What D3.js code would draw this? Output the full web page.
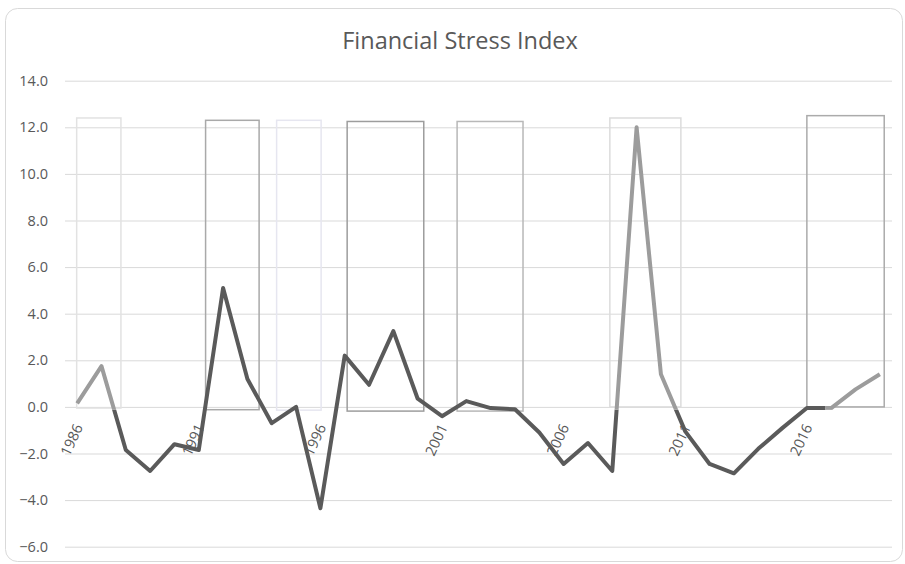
<!DOCTYPE html>
<html>
<head>
<meta charset="utf-8">
<script src="https://cdn.jsdelivr.net/npm/d3@7"></script>
<style>
  html, body { margin: 0; padding: 0; background: #fff; }
  svg { display: block; }
</style>
</head>
<body>
<svg id="chart" width="905" height="564"></svg>
<script>
// ---- data ----
const years = d3.range(1986, 2020);
const fsi = [0.15, 1.75, -1.85, -2.75, -1.6, -1.85, 5.1, 1.2, -0.7, 0.0,
             -4.35, 2.2, 0.95, 3.25, 0.35, -0.4, 0.25, -0.05, -0.1, -1.1,
             -2.45, -1.55, -2.75, 12.0, 1.4, -1.05, -2.45, -2.85, -1.8, -0.9,
             -0.05, -0.05, 0.75, 1.4];
const yTicks = [-6, -4, -2, 0, 2, 4, 6, 8, 10, 12, 14];
const xLabelYears = [1986, 1991, 1996, 2001, 2006, 2011, 2016];
// crisis boxes (fractional years)
const boxStart = [1985.98, 1991.28, 1994.2, 1997.1, 2001.62, 2007.9, 2016.0];
const boxEnd   = [1987.8, 1993.48, 1996.03, 2000.25, 2004.33, 2010.82, 2019.18];
const boxTop   = [12.4, 12.3, 12.3, 12.25, 12.25, 12.4, 12.5];
const boxBottom= [-0.05, -0.12, -0.14, -0.18, -0.18, 0.0, 0.0];
// periods where the line is drawn in the lighter tone
const lightStart = [1986, 2008, 2017];
const lightEnd   = [1988, 2011, 2019];

// ---- styles ----
const boxColors = ["#e2e2e2", "#a9a9a9", "#e6e6f0", "#9d9d9d", "#b8b8b8", "#dcdcdc", "#ababab"];
const darkLine = "#5a5a5a";
const lightLine = "#9c9c9c";
const textColor = "#595959";
const gridColor = "#d9d9d9";
const font = "'Open Sans', 'Segoe UI', sans-serif";
const lineW = 4;

const svg = d3.select("#chart");
const plot = { left: 65, right: 892, top: 80.7, bottom: 546.7 };

// frame
svg.append("rect")
  .attr("x", 5.5).attr("y", 8.5).attr("width", 897).attr("height", 553)
  .attr("rx", 12).attr("ry", 12)
  .attr("fill", "#fff").attr("stroke", "#d9d9d9").attr("stroke-width", 1);

// title
svg.append("text")
  .attr("x", 460).attr("y", 48.5)
  .attr("text-anchor", "middle")
  .attr("font-family", font).attr("font-size", 23.5)
  .attr("fill", textColor)
  .text("Financial Stress Index");

const band = d3.scaleBand().domain(years).range([plot.left, plot.right]).padding(0);
const xc = yr => band(yr) + band.bandwidth() / 2;
// continuous year scale consistent with band centres
const xl = d3.scaleLinear()
  .domain([years[0], years[years.length - 1]])
  .range([xc(years[0]), xc(years[years.length - 1])]);
const y = d3.scaleLinear().domain([-6, 14]).range([plot.bottom, plot.top]);

// gridlines + y axis
const yAxis = d3.axisLeft(y).tickValues(yTicks)
  .tickSize(-(plot.right - plot.left)).tickPadding(16)
  .tickFormat(d3.format(".1f"));
const gy = svg.append("g").attr("transform", `translate(${plot.left},0)`).call(yAxis);
gy.select(".domain").remove();
gy.selectAll(".tick line").attr("stroke", gridColor).attr("stroke-width", 1);
gy.selectAll(".tick text")
  .attr("fill", textColor).attr("font-family", font).attr("font-size", 14.5)
  .attr("x", 48 - plot.left);

// crisis boxes
svg.append("g").selectAll("rect")
  .data(boxStart.map((s, i) => ({ s, e: boxEnd[i], t: boxTop[i], b: boxBottom[i], c: boxColors[i] })))
  .join("rect")
  .attr("x", d => xl(d.s)).attr("width", d => xl(d.e) - xl(d.s))
  .attr("y", d => y(d.t)).attr("height", d => y(d.b) - y(d.t))
  .attr("fill", "none").attr("stroke", d => d.c).attr("stroke-width", 1.5);

// line split into dark and light parts
const pts = years.map((yr, i) => [yr, fsi[i]]);
const line = d3.line().x(d => xl(d[0])).y(d => y(d[1]));
const defs = svg.append("defs");
const cutY = y(-0.12);

const mask = defs.append("mask").attr("id", "darkMask")
  .attr("maskUnits", "userSpaceOnUse")
  .attr("x", 0).attr("y", 0).attr("width", 905).attr("height", 564);
mask.append("rect").attr("x", 0).attr("y", 0).attr("width", 905).attr("height", 564).attr("fill", "#fff");

lightStart.forEach((s, i) => {
  const x0 = xl(s) - 6, x1 = xl(lightEnd[i]) + 6;
  mask.append("rect").attr("x", x0).attr("y", 0).attr("width", x1 - x0).attr("height", cutY).attr("fill", "#000");
  defs.append("clipPath").attr("id", "clipL" + i).append("rect")
    .attr("x", x0).attr("y", 0).attr("width", x1 - x0).attr("height", cutY);
});

svg.append("path").datum(pts)
  .attr("d", line).attr("fill", "none")
  .attr("mask", "url(#darkMask)")
  .attr("stroke", darkLine).attr("stroke-width", lineW)
  .attr("stroke-linejoin", "round");

lightStart.forEach((s, i) => {
  svg.append("path").datum(pts)
    .attr("d", line).attr("fill", "none")
    .attr("clip-path", `url(#clipL${i})`)
    .attr("stroke", lightLine).attr("stroke-width", lineW)
    .attr("stroke-linejoin", "round");
});

// x labels (rotated, next to zero axis)
svg.append("g").selectAll("text")
  .data(xLabelYears)
  .join("text")
  .attr("transform", d => `translate(${xc(d) + 6},${y(0) + 20}) rotate(-65)`)
  .attr("text-anchor", "end")
  .attr("font-family", font).attr("font-size", 14.5)
  .attr("fill", textColor)
  .text(d => d);
</script>
</body>
</html>
